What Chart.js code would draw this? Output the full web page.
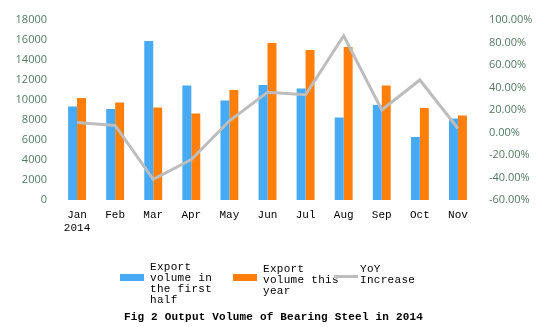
<!DOCTYPE html>
<html lang="en">
<head>
<meta charset="UTF-8" />
<title>Output Volume of Bearing Steel in 2014</title>
<script src="https://cdn.jsdelivr.net/npm/chart.js@4.4.0/dist/chart.umd.min.js"></script>
<style>
    body { margin: 0; background: #fff; }
    #wrap { position: relative; width: 547px; height: 327px; }
    #legend { position: absolute; top: 0; left: 0; width: 547px; height: 327px; font: 11px "Liberation Mono", "DejaVu Sans Mono", monospace; color: #000; pointer-events: none; }
    .sw { position: absolute; width: 24px; }
    .lt { position: absolute; line-height: 11px; letter-spacing: 0.3px; }
    #title { position: absolute; top: 311px; left: 0; width: 547px; text-align: center; font: bold 11px "Liberation Mono", "DejaVu Sans Mono", monospace; letter-spacing: 0.2px; }
</style>
</head>
<body>
<div id="wrap">
    <canvas id="myChart" width="547" height="327"></canvas>
    <div id="legend">
        <div class="sw" style="left:120px; top:274px; height:7px; background:#46aaf5"></div>
        <div class="lt" style="left:150px; top:262px">Export<br>volume in<br>the first<br>half</div>
        <div class="sw" style="left:233px; top:274px; height:7px; background:#ff7f0a"></div>
        <div class="lt" style="left:263px; top:264px">Export<br>volume this<br>year</div>
        <div class="sw" style="left:334px; top:275px; height:3px; background:#bdbdbd"></div>
        <div class="lt" style="left:360px; top:264px">YoY<br>Increase</div>
    </div>
    <div id="title">Fig 2 Output Volume of Bearing Steel in 2014</div>
</div>

<script>
    // data
    const months = [["Jan", "2014"], "Feb", "Mar", "Apr", "May", "Jun", "Jul", "Aug", "Sep", "Oct", "Nov"];
    const firstHalf = [9350, 9100, 15900, 11450, 9950, 11500, 11150, 8250, 9500, 6300, 8150];
    const thisYear = [10200, 9750, 9250, 8650, 11000, 15700, 15000, 15300, 11450, 9200, 8450];
    const yoy = [0.089, 0.063, -0.417, -0.24, 0.104, 0.357, 0.336, 0.86, 0.20, 0.467, 0.036];

    const tickColor = "#527a60";
    const tickFont = { family: "'Open Sans', 'DejaVu Sans', sans-serif", size: 11 };

    var chart = new Chart(document.getElementById("myChart"), {
        type: "bar",
        data: {
            labels: months,
            datasets: [
                {
                    type: "line",
                    label: "YoY Increase",
                    data: yoy,
                    yAxisID: "y2",
                    borderColor: "#bdbdbd",
                    borderWidth: 3,
                    pointRadius: 0,
                    tension: 0,
                    order: 0
                },
                {
                    label: "Export volume in the first half",
                    data: firstHalf,
                    backgroundColor: "#46aaf5",
                    yAxisID: "y",
                    order: 1
                },
                {
                    label: "Export volume this year",
                    data: thisYear,
                    backgroundColor: "#ff7f0a",
                    yAxisID: "y",
                    order: 1
                }
            ]
        },
        options: {
            responsive: false,
            animation: false,
            categoryPercentage: 0.47,
            barPercentage: 1,
            layout: { padding: { top: 20, bottom: 87, left: 0, right: 0 } },
            plugins: { legend: { display: false }, tooltip: { enabled: false } },
            scales: {
                x: {
                    grid: { display: false, drawTicks: false },
                    border: { display: false },
                    ticks: {
                        color: "#000",
                        padding: 8,
                        maxRotation: 0,
                        autoSkip: false,
                        font: { family: "'Liberation Mono', 'DejaVu Sans Mono', monospace", size: 11 }
                    },
                    afterFit: function (s) { s.height = 40; }
                },
                y: {
                    position: "left",
                    min: 0,
                    max: 18000,
                    grid: { display: false, drawTicks: false },
                    border: { display: false },
                    ticks: {
                        stepSize: 2000,
                        color: tickColor,
                        padding: 11,
                        font: tickFont,
                        callback: function (v) { return String(v); }
                    },
                    afterFit: function (s) { s.width = 58; }
                },
                y2: {
                    position: "right",
                    min: -0.6,
                    max: 1.0,
                    grid: { display: false, drawTicks: false },
                    border: { display: false },
                    ticks: {
                        stepSize: 0.2,
                        color: tickColor,
                        padding: 12,
                        font: tickFont,
                        callback: function (v) { return (v * 100).toFixed(2) + "%"; }
                    },
                    afterFit: function (s) { s.width = 70; }
                }
            }
        }
    });
</script>
</body>
</html>
